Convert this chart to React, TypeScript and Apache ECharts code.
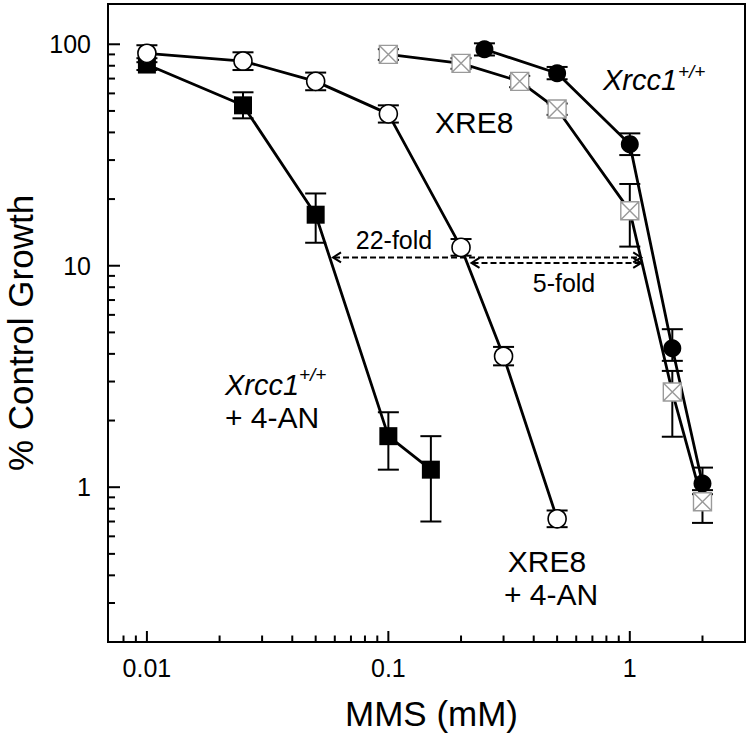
import React, { useEffect, useRef } from 'react';
import * as echarts from 'echarts';

// ---- axis ranges ----
const X_MIN = 0.0069;
const X_MAX = 3;
const Y_MIN = 0.2;
const Y_MAX = 152;

// ---- tick values ----
const xMajorTicks = [0.01, 0.1, 1];
const xMinorTicks = [0.008, 0.009, 0.02, 0.03, 0.04, 0.05, 0.06, 0.07, 0.08, 0.09, 0.2, 0.3, 0.4, 0.5, 0.6, 0.7, 0.8, 0.9, 2];
const yMajorTicks = [1, 10, 100];
const yMinorTicks = [0.3, 0.4, 0.5, 0.6, 0.7, 0.8, 0.9, 2, 3, 4, 5, 6, 7, 8, 9, 20, 30, 40, 50, 60, 70, 80, 90];

// ---- Xrcc1+/+ + 4-AN (filled squares) ----
const sqX = [0.01, 0.025, 0.05, 0.1, 0.15];
const sqY = [81, 53, 17, 1.7, 1.2];
const sqLo = [76.5, 46.3, 12.7, 1.2, 0.7];
const sqHi = [86.5, 60.7, 21.2, 2.18, 1.7];

// ---- XRE8 + 4-AN (open circles) ----
const ocX = [0.01, 0.025, 0.05, 0.1, 0.2, 0.3, 0.5];
const ocY = [91, 84, 68, 48.5, 12.1, 3.9, 0.72];
const ocLo = [83, 76.5, 62, 44.3, 11.1, 3.55, 0.66];
const ocHi = [99, 92, 74.5, 53, 13.2, 4.3, 0.785];

// ---- Xrcc1+/+ (filled circles) ----
const fcX = [0.25, 0.5, 1.0, 1.5, 2.0];
const fcY = [95, 74, 35.4, 4.24, 1.04];
const fcLo = [89, 69.5, 31.6, 3.72, 0.97];
const fcHi = [101, 79, 39.6, 5.17, 1.226];

// ---- XRE8 (crossed squares) ----
const csX = [0.1, 0.2, 0.35, 0.5, 1.0, 1.5, 2.0];
const csY = [90, 82, 68, 51, 17.7, 2.69, 0.86];
const csLo = [85, 77.5, 64, 48, 12.2, 1.69, 0.69];
const csHi = [95, 86.5, 72, 54, 23.4, 3.35, 0.93];

// ---- fold-difference arrows: [from x, to x, y] ----
const foldArrows = [
  [0.059, 1.115, 10.9],
  [0.221, 1.115, 10.3],
];

const FONT = "'Liberation Sans', Arial, Helvetica, sans-serif";

const zip = (xs: number[], ys: number[]) => xs.map((x, i) => [x, ys[i]]);

const errorSeries = (xs: number[], lo: number[], hi: number[]) => ({
  type: 'custom',
  coordinateSystem: 'cartesian2d',
  silent: true,
  clip: false,
  z: 2,
  dimensions: ['ex', 'lo', 'hi'],
  encode: { x: 0, y: [1, 2] },
  data: xs.map((x, i) => [x, lo[i], hi[i]]),
  renderItem: (params: any, api: any) => {
    const x = api.value(0);
    const top = api.coord([x, api.value(2)]);
    const bot = api.coord([x, api.value(1)]);
    const hw = 10.5;
    const st = { stroke: '#000', lineWidth: 2 };
    return {
      type: 'group',
      children: [
        { type: 'line', shape: { x1: top[0], y1: top[1], x2: bot[0], y2: bot[1] }, style: st },
        { type: 'line', shape: { x1: top[0] - hw, y1: top[1], x2: top[0] + hw, y2: top[1] }, style: st },
        { type: 'line', shape: { x1: bot[0] - hw, y1: bot[1], x2: bot[0] + hw, y2: bot[1] }, style: st },
      ],
    };
  },
});

const lineSeries = (name: string, xs: number[], ys: number[], symbol: string, itemStyle: any) => ({
  name,
  type: 'line',
  z: 3,
  data: zip(xs, ys),
  symbol,
  symbolSize: 18,
  showAllSymbol: true,
  lineStyle: { color: '#000', width: 2.8 },
  itemStyle,
  emphasis: { disabled: true },
});

const txt = (text: string, x: number, y: number, size: number, align = 'left', italic = false) => ({
  type: 'text',
  x,
  y,
  z: 20,
  silent: true,
  style: {
    text,
    fontSize: size,
    fontFamily: FONT,
    fontStyle: italic ? 'italic' : 'normal',
    fill: '#000',
    align,
    verticalAlign: 'middle',
  },
});

const fmtDecade = (v: number) => {
  const l = Math.log10(v);
  if (Math.abs(l - Math.round(l)) > 1e-6) return '';
  return String(Number(Math.pow(10, Math.round(l)).toPrecision(2)));
};

export default function App() {
  const ref = useRef<HTMLDivElement>(null);

  useEffect(() => {
    if (!ref.current) return;
    const chart = echarts.init(ref.current, null, { renderer: 'svg' });

    const tickStyle = { stroke: '#000', lineWidth: 2 };

    const option: any = {
      animation: false,
      backgroundColor: '#fff',
      grid: {
        left: 108,
        right: 5,
        top: 4,
        bottom: 96,
        containLabel: false,
        outerBoundsMode: 'none',
        show: true,
        borderColor: '#000',
        borderWidth: 2,
        backgroundColor: 'transparent',
      },
      xAxis: {
        type: 'log',
        logBase: 10,
        min: X_MIN,
        max: X_MAX,
        axisLine: { show: true, onZero: false, lineStyle: { color: '#000', width: 2 } },
        axisTick: { show: false },
        minorTick: { show: false },
        splitLine: { show: false },
        axisLabel: {
          formatter: fmtDecade,
          fontSize: 25,
          color: '#000',
          fontFamily: FONT,
          margin: 13,
          showMinLabel: false,
          showMaxLabel: false,
        },
        name: 'MMS (mM)',
        nameLocation: 'middle',
        nameGap: 54,
        nameTextStyle: { fontSize: 35, color: '#000', fontFamily: FONT, padding: [0, 0, 0, 10] },
      },
      yAxis: {
        type: 'log',
        logBase: 10,
        min: Y_MIN,
        max: Y_MAX,
        axisLine: { show: true, onZero: false, lineStyle: { color: '#000', width: 2 } },
        axisTick: { show: false },
        minorTick: { show: false },
        splitLine: { show: false },
        axisLabel: {
          formatter: fmtDecade,
          fontSize: 25,
          color: '#000',
          fontFamily: FONT,
          margin: 17,
          showMinLabel: false,
          showMaxLabel: false,
          padding: [0, 0, 6, 0],
        },
        name: '% Control Growth',
        nameLocation: 'middle',
        nameGap: 70,
        nameTextStyle: { fontSize: 35, color: '#000', fontFamily: FONT, padding: [0, 20, 0, 0] },
      },
      series: [
        // axis ticks (inside), placed through the axes' scales
        {
          type: 'custom',
          coordinateSystem: 'cartesian2d',
          silent: true,
          clip: false,
          z: 6,
          dimensions: ['ax', 'ay'],
          encode: { x: 0, y: 1 },
          data: [[1, 1]],
          renderItem: (params: any, api: any) => {
            const children: any[] = [];
            const bottom = api.coord([1, Y_MIN])[1];
            const left = api.coord([X_MIN, 1])[0];
            const addX = (v: number, len: number) => {
              const px = api.coord([v, 1])[0];
              children.push({ type: 'line', shape: { x1: px, y1: bottom, x2: px, y2: bottom - len }, style: tickStyle });
            };
            const addY = (v: number, len: number) => {
              const py = api.coord([1, v])[1];
              children.push({ type: 'line', shape: { x1: left, y1: py, x2: left + len, y2: py }, style: tickStyle });
            };
            xMajorTicks.forEach((v) => addX(v, 11));
            xMinorTicks.forEach((v) => addX(v, 6.5));
            yMajorTicks.forEach((v) => addY(v, 12));
            yMinorTicks.forEach((v) => addY(v, 7));
            return { type: 'group', children };
          },
        },
        // fold arrows
        {
          type: 'custom',
          coordinateSystem: 'cartesian2d',
          silent: true,
          clip: false,
          z: 4,
          dimensions: ['from', 'to', 'fy'],
          encode: { x: [0, 1], y: 2 },
          data: foldArrows,
          renderItem: (params: any, api: any) => {
            const y = api.value(2);
            const a = api.coord([api.value(0), y]);
            const b = api.coord([api.value(1), y]);
            const hl = 8;
            const hh = 5;
            const st = { stroke: '#000', lineWidth: 2, fill: 'none' };
            return {
              type: 'group',
              children: [
                {
                  type: 'line',
                  shape: { x1: a[0] + 1, y1: a[1], x2: b[0] - 1, y2: b[1] },
                  style: { stroke: '#000', lineWidth: 2, lineDash: [6, 3] },
                },
                {
                  type: 'polyline',
                  shape: { points: [[a[0] + hl, a[1] - hh], [a[0], a[1]], [a[0] + hl, a[1] + hh]] },
                  style: st,
                },
                {
                  type: 'polyline',
                  shape: { points: [[b[0] - hl, b[1] - hh], [b[0], b[1]], [b[0] - hl, b[1] + hh]] },
                  style: st,
                },
              ],
            };
          },
        },
        errorSeries(sqX, sqLo, sqHi),
        errorSeries(ocX, ocLo, ocHi),
        errorSeries(fcX, fcLo, fcHi),
        errorSeries(csX, csLo, csHi),
        lineSeries('Xrcc1+/+ + 4-AN', sqX, sqY, 'rect', { color: '#000' }),
        lineSeries('XRE8 + 4-AN', ocX, ocY, 'circle', { color: '#fff', borderColor: '#000', borderWidth: 1.6 }),
        lineSeries('Xrcc1+/+', fcX, fcY, 'circle', { color: '#000' }),
        lineSeries('XRE8', csX, csY, 'path://M0 0H20V20H0Z M0 0L20 20 M20 0L0 20', {
          color: '#fff',
          borderColor: '#9a9a9a',
          borderWidth: 1.4,
        }),
      ],
      graphic: [
        txt('XRE8', 435, 122.5, 30),
        txt('22-fold', 394, 240, 25, 'center'),
        txt('5-fold', 564, 283, 25, 'center'),
        txt('Xrcc1', 603, 80, 29, 'left', true),
        txt('+/+', 678, 71, 19, 'left', true),
        txt('Xrcc1', 225, 385, 29, 'left', true),
        txt('+/+', 299, 374, 19, 'left', true),
        txt('+ 4-AN', 225, 417.5, 30),
        txt('XRE8', 547, 561, 30, 'center'),
        txt('+ 4-AN', 551, 594, 30, 'center'),
      ],
    };

    chart.setOption(option);
    return () => chart.dispose();
  }, []);

  return (
    <div
      ref={ref}
      style={{ position: 'absolute', left: 0, top: 0, width: 750, height: 738, background: '#fff' }}
    />
  );
}
